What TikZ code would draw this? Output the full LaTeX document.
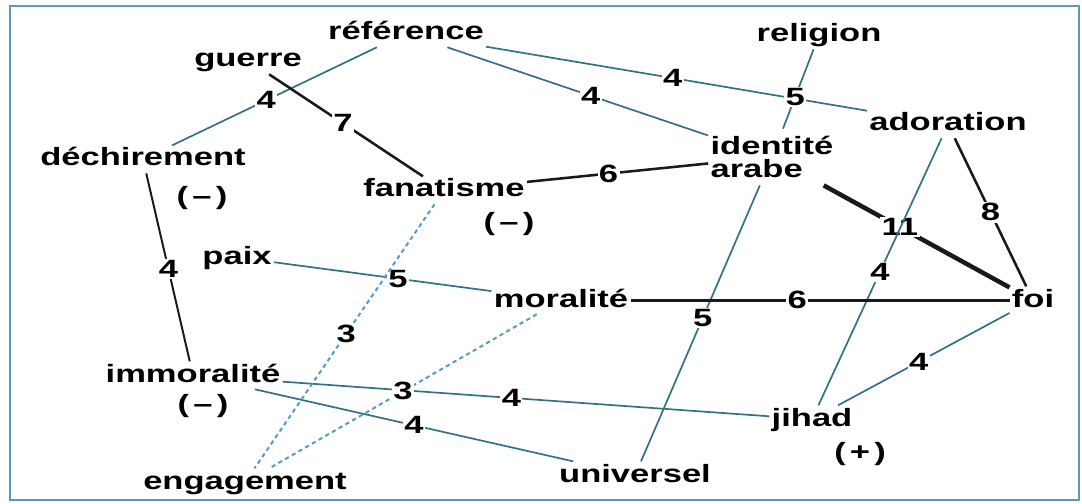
\documentclass[tikz,border=0pt]{standalone}
\usepackage{fontspec}
\setmainfont{Liberation Sans}[FakeStretch=1.38]
\usepackage{tikz}
\definecolor{edgeblue}{RGB}{52,112,132}
\definecolor{dotblue}{RGB}{84,152,196}
\definecolor{frameblue}{RGB}{96,150,182}
\definecolor{darkline}{RGB}{22,26,28}

\begin{document}
\begin{tikzpicture}[x=0.025cm, y=-0.025cm,
    word/.style={font=\bfseries\fontsize{17.8}{13.6}\selectfont, inner sep=1.5pt, text=black},
    term/.style={word, text height=13pt, text depth=3.5pt, anchor=base},
    num/.style={word, fill=white, inner sep=1pt},
    weak/.style={edgeblue, line width=1.2pt},
    strong/.style={darkline, line width=1.8pt},
    heavy/.style={darkline, line width=3.2pt},
    dots/.style={dotblue, line width=1.4pt, dash pattern=on 3pt off 2.5pt}]
    \useasboundingbox (0,0) rectangle (1082,504);
    \draw[frameblue, line width=1.5pt] (10,6) rectangle (1079,500);

    \node[term] (ref) at (406,40) {référence};
    \node[term] (guerre) at (248,67) {guerre};
    \node[term] (relig) at (819,42) {religion};
    \node[term] (dechir) at (143,166) {déchirement};
    \node[term] (fanat) at (444,197) {fanatisme};
    \node[word, align=left, minimum height=40pt] (ident) at (772,157) {identité\\[2.5pt]arabe};
    \node[term] (ador) at (948,131) {adoration};
    \node[term] (paix) at (237,264) {paix};
    \node[term] (moral) at (561,307) {moralité};
    \node[term] (foi) at (1033,307) {foi};
    \node[term] (immor) at (193,382) {immoralité};
    \node[term] (jihad) at (812,426) {jihad};
    \node[term] (engag) at (245,489) {engagement};
    \node[term] (univ) at (635,482) {universel};
    \node[word] (dechirsign) at (202,198) {(\,–\,)};
    \node[word] (fanatsign) at (509,224) {(\,–\,)};
    \node[word] (immorsign) at (203,406) {(\,–\,)};
    \node[word] (jihadsign) at (860,454) {(\,+\,)};

    \draw[weak] (ref) -- node[num, pos=.54] {4} (dechir);
    \draw[strong] (guerre) -- node[num, pos=.48] {7} (fanat);
    \draw[weak] (ref) -- node[num, pos=.55] {4} (ident);
    \draw[weak] (ref) -- node[num, pos=.49] {4} (ador);
    \draw[weak] (relig) -- node[num, pos=.6] {5} (ident);
    \draw[strong] (fanat) -- node[num, pos=.45] {6} (ident);
    \draw[heavy] (ident) -- node[num, pos=.41] {11} (foi);
    \draw[strong] (ador) -- node[num, pos=.5] {8} (foi);
    \draw[weak] (ador) -- node[num, pos=.5] {4} (jihad);
    \draw[weak] (ident) -- node[num, pos=.48] {5} (univ);
    \draw[weak] (paix) -- node[num, pos=.57] {5} (moral);
    \draw[strong] (moral) -- node[num, pos=.44] {6} (foi);
    \draw[weak] (foi) -- node[num, pos=.53] {4} (jihad);
    \draw[darkline, line width=1.4pt] (dechir) -- node[num, pos=.51] {4} (immor);
    \draw[weak] (immor) -- node[num, pos=.47] {4} (jihad);
    \draw[weak] (immor) -- node[num, pos=.5] {4} (univ);
    \draw[dots] (fanat) -- node[num, pos=.49] {3} (engag);
    \draw[dots] (moral) -- node[num, pos=.5] {3} (engag);
\end{tikzpicture}
\end{document}
